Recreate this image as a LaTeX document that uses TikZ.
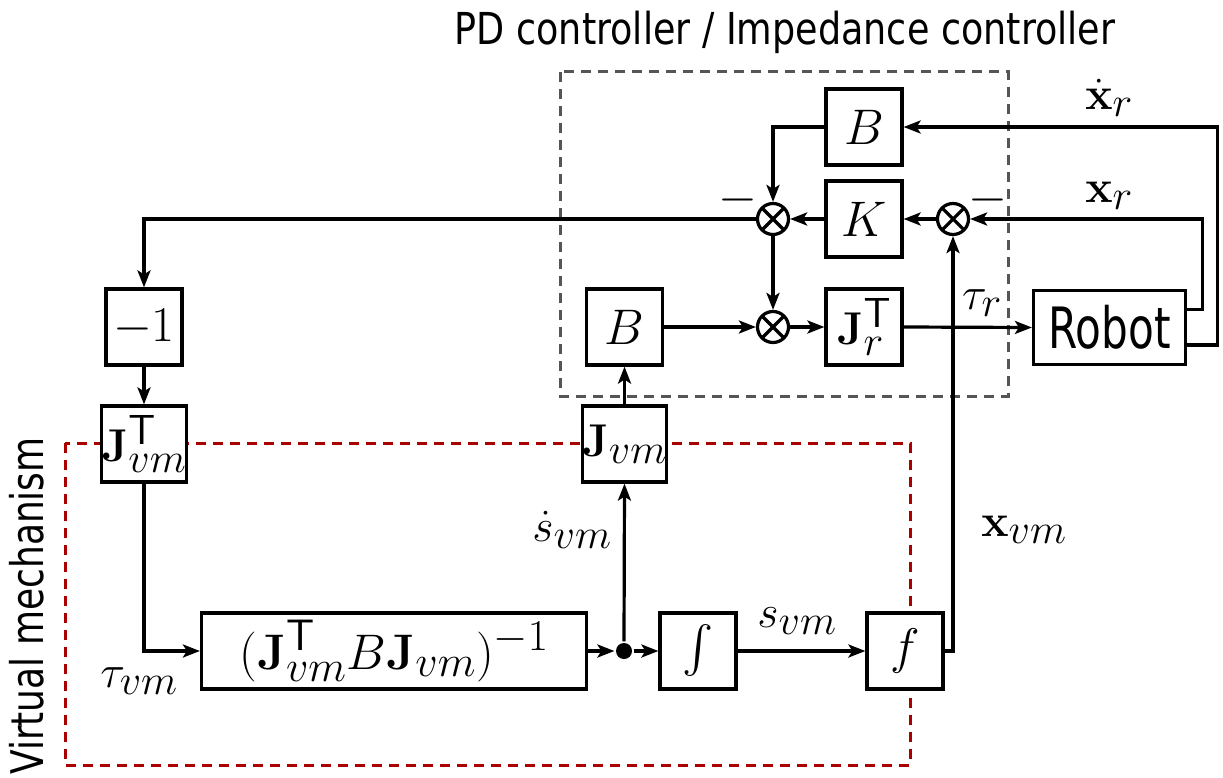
\RequirePackage{fix-cm}
\documentclass[tikz,border=0pt]{standalone}
\usepackage{amsmath}
\usepackage{graphicx}
\usepackage[no-math]{fontspec}
\newfontfamily\dvt[FakeStretch=0.83]{DejaVu Sans}
\newfontfamily\dvv[FakeStretch=0.8]{DejaVu Sans}
\newfontfamily\dvr[FakeStretch=0.74]{DejaVu Sans}
\DeclareMathSizes{50}{50}{44}{36}
\DeclareMathSizes{46}{46}{42}{34}
\usetikzlibrary{arrows.meta,calc}
\definecolor{dgray}{RGB}{85,85,85}
\definecolor{dred}{RGB}{170,0,0}
\begin{document}
\begin{tikzpicture}[x=1pt,y=-1pt,line width=3.2pt,
  >={Stealth[length=17pt,width=13pt,inset=4pt]},
  blk/.style={draw,fill=white,line width=3.2pt,minimum width=76pt,minimum height=76pt,inner sep=0pt},
  fbig/.style={font=\fontsize{50}{60}\selectfont},
  fmid/.style={font=\fontsize{46}{55}\selectfont},
  sumn/.style={circle,draw,fill=white,line width=3.2pt,minimum size=31pt,inner sep=0pt,
    path picture={\draw[line width=3.2pt] (path picture bounding box.north west) -- (path picture bounding box.south east)
      (path picture bounding box.north east) -- (path picture bounding box.south west);}},
  grp/.style={line width=3pt,dash pattern=on 10pt off 7pt}]
\useasboundingbox (0,0) rectangle (1223,778);
% group frames
\draw[grp,dgray] (560,72) rectangle (1008,396);
\draw[grp,dred] (65,443) rectangle (910,765);
% blocks
\node[blk,fbig] (B1) at (864,127) {$B$};
\node[blk,fbig] (K) at (864,219) {$K$};
\node[blk,fmid] (Jr) at (864,327) {$\mathbf{J}_r^{\mathsf{T}}$};
\node[sumn] (s1) at (773,219) {};
\node[sumn] (s2) at (773,327) {};
\node[sumn] (s3) at (953,219) {};
\node[draw,fill=white,line width=3.2pt,minimum width=152pt,minimum height=74pt,inner sep=0pt,
  font=\dvr\fontsize{57}{64}\selectfont] (R) at (1109.5,327.5) {Robot};
\node[blk,fbig] (B2) at (624.5,327) {$B$};
\node[blk,fmid] (Jvm) at (624.5,444) {$\mathbf{J}_{vm}$};
\node[blk,fbig] (m1) at (144,327) {$-1$};
\node[blk,fmid] (JvmT) at (144,444) {$\mathbf{J}_{vm}^{\mathsf{T}}$};
\node[blk,fbig,minimum width=385pt] (M) at (394,651) {$(\mathbf{J}_{vm}^{\mathsf{T}}B\mathbf{J}_{vm})^{-1}$};
\node[blk] (I) at (698,651) {\resizebox*{!}{52pt}{$\int$}};
\node[blk,fbig] (F) at (905,651) {$f$};
\node[circle,fill,inner sep=0pt,minimum size=16pt] (d) at (624,651) {};
% connectors
\draw[->] (B1.west) -| (s1.north);
\draw[->] (K.west) -- (s1.east);
\draw[->] (s3.west) -- (K.east);
\draw[->] (s1.south) -- (s2.north);
\draw[->] (B2.east) -- (s2.west);
\draw[->] (s2.east) -- (Jr.west);
\draw[->] (Jr.east) -- (R.west);
\draw[->] ([yshift=18pt]R.east) -- ++(15,0) |- (s3.east);
\draw[->] ([yshift=-17.5pt]R.east) -- ++(30,0) |- (B1.east);
\draw[->] (s1.west) -| (m1.north);
\draw[->] (m1.south) -- (JvmT.north);
\draw[->] (JvmT.south) |- (M.west);
\draw[->] (M.east) -- (d.west);
\draw[->] (d.east) -- (I.west);
\draw[->] (d.north) -- (Jvm.south);
\draw[->] (Jvm.north) -- (B2.south);
\draw[->] (I.east) -- (F.west);
\draw[->] (F.east) -| (s3.south);
% labels
\node[fmid] (lxd) at (1109,98) {$\dot{\mathbf{x}}_r$};
\node[fmid] (lx) at (1109,196) {$\mathbf{x}_r$};
\node[fmid] (ltr) at (982,303) {$\tau_r$};
\node[fmid] (ltv) at (139,681) {$\tau_{vm}$};
\node[fmid] (lsd) at (572,530) {$\dot{s}_{vm}$};
\node[fmid] (ls) at (797,621) {$s_{vm}$};
\node[fmid] (lxv) at (1024,530) {$\mathbf{x}_{vm}$};
\node[fbig] (mn1) at (738,200) {$-$};
\node[fbig] (mn2) at (988,200) {$-$};
\node[font=\dvt\fontsize{44}{52}\selectfont,anchor=base] (title) at (785,45) {PD controller / Impedance controller};
\node[font=\dvv\fontsize{45}{52}\selectfont,rotate=90,anchor=base] (vmt) at (43,606) {Virtual mechanism};
\end{tikzpicture}
\end{document}
